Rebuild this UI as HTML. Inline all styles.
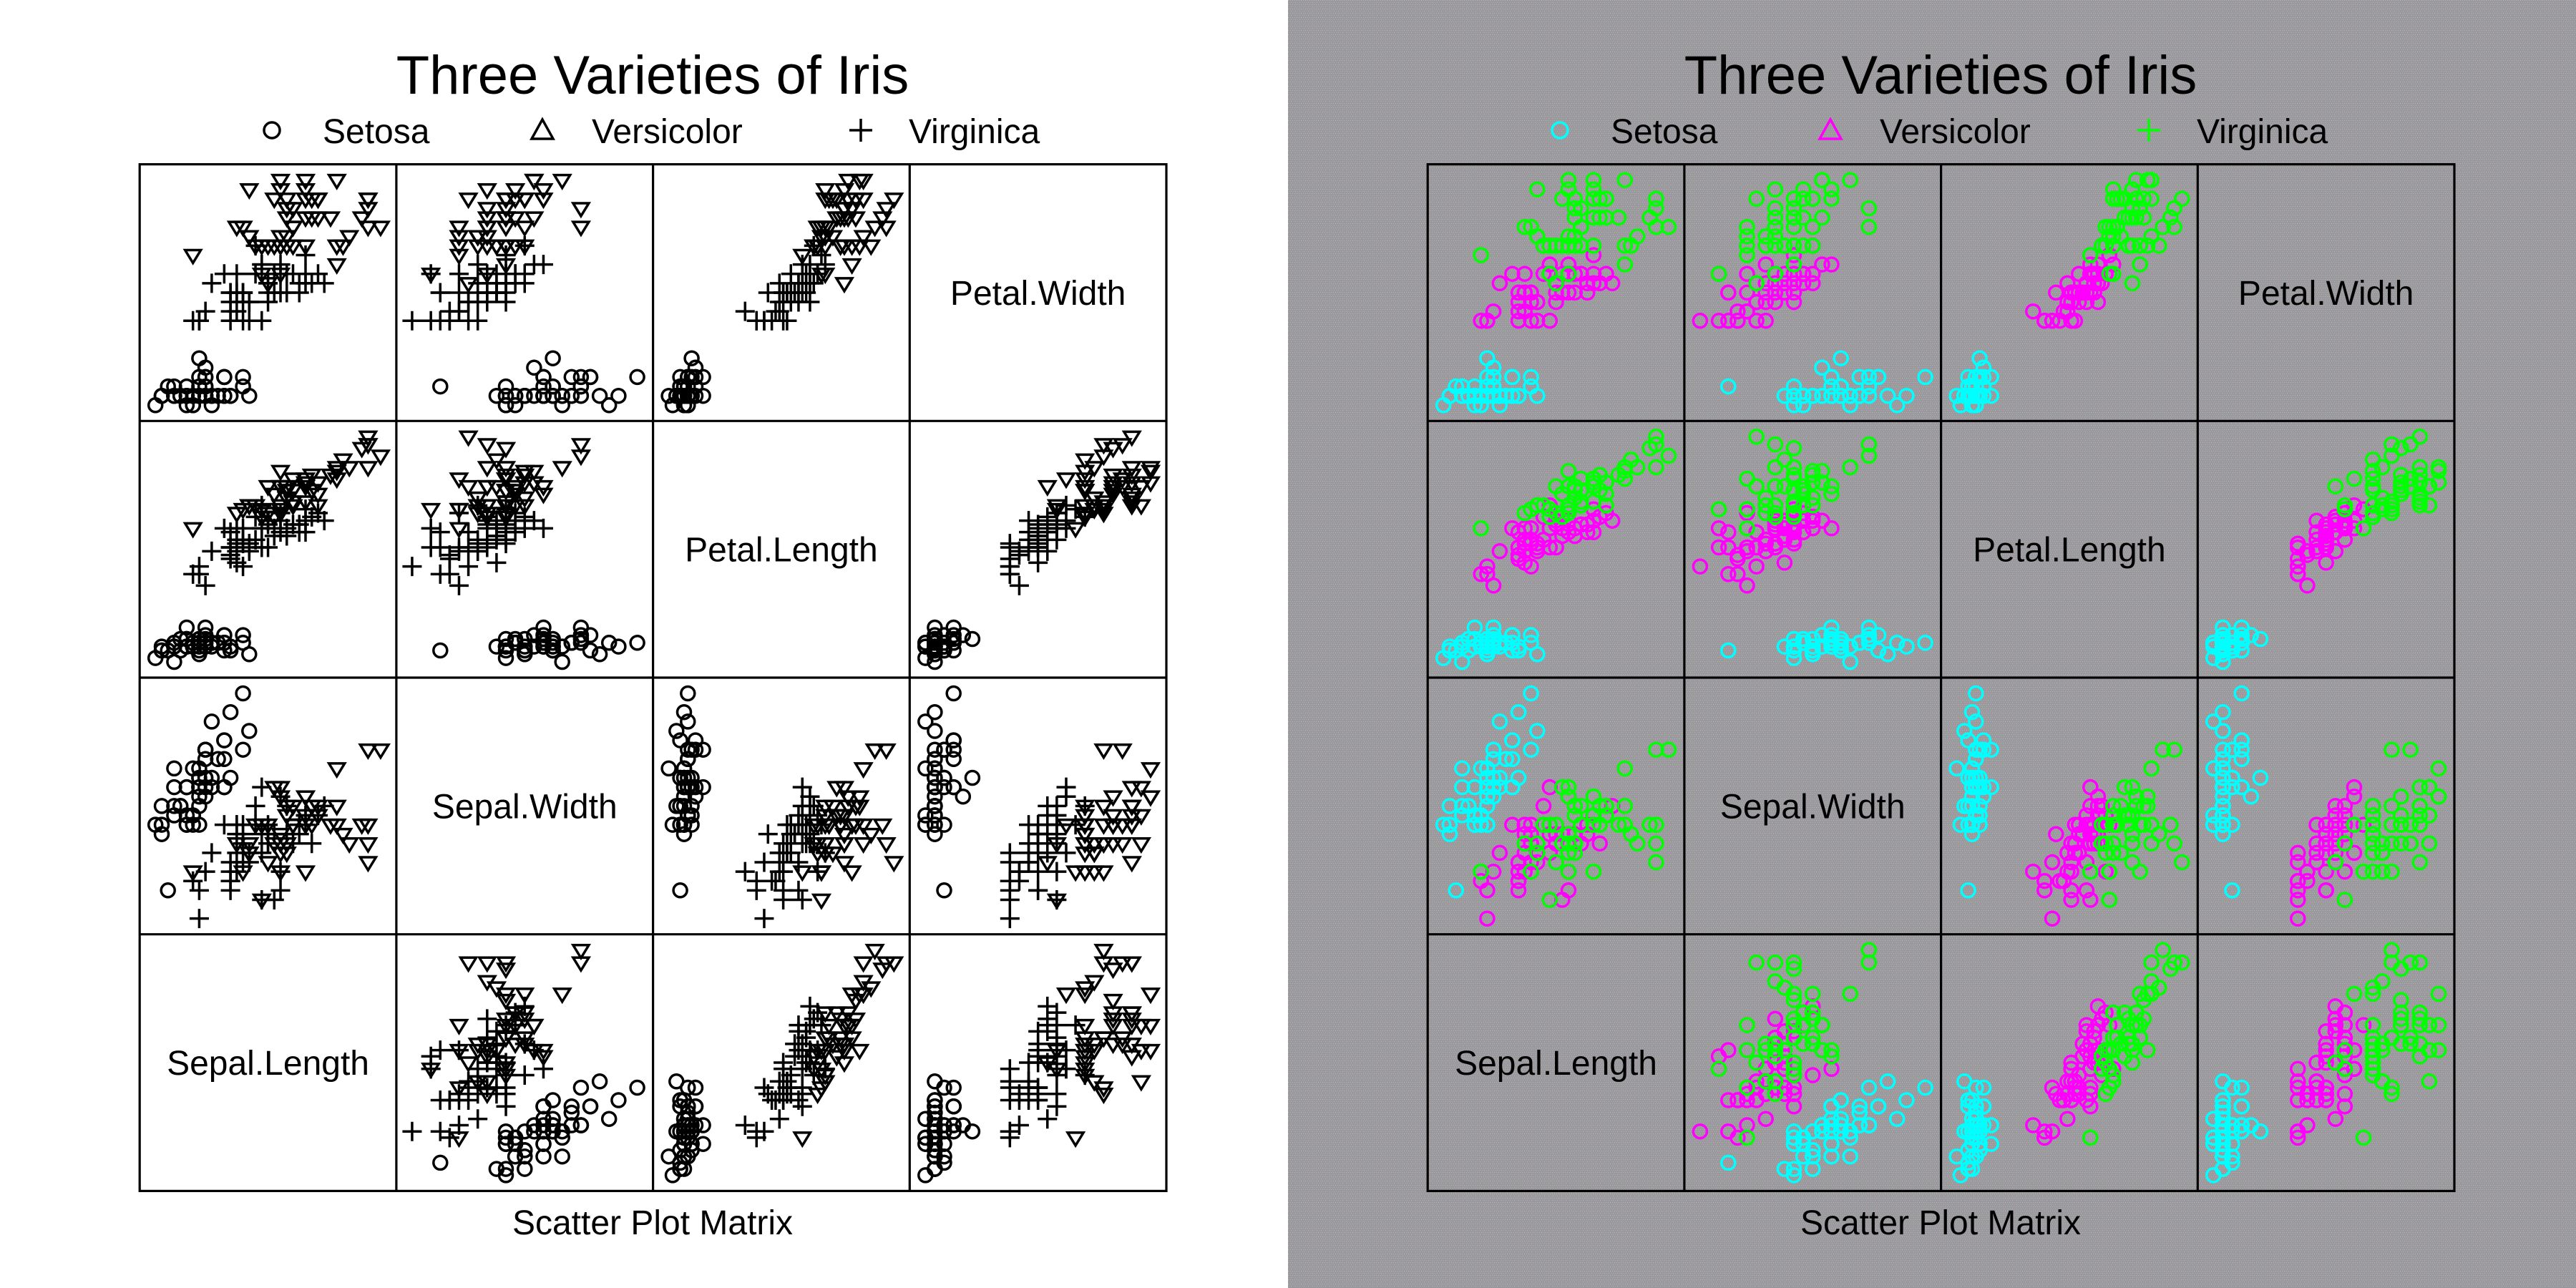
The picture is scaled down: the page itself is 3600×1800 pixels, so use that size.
<!DOCTYPE html>
<html><head><meta charset="utf-8">
<style>
html,body{margin:0;padding:0;background:#fff;}
svg{display:block;font-family:"Liberation Sans",Arial,sans-serif;}
</style></head>
<body>
<svg id="chart" width="3600" height="1800" viewBox="0 0 3600 1800" xmlns="http://www.w3.org/2000/svg">
<defs>
<pattern id="noise" width="6" height="6" patternUnits="userSpaceOnUse">
<rect width="6" height="6" fill="#9a999e"/>
<rect x="0" y="0" width="1" height="1" fill="#c8b49a"/>
<rect x="3" y="0" width="1" height="1" fill="#8fc8a0"/>
<rect x="1" y="3" width="1" height="1" fill="#c890b0"/>
<rect x="4" y="3" width="1" height="1" fill="#b0b0c8"/>
</pattern>
</defs>
<rect x="0" y="0" width="1800" height="1800" fill="#fff"/>
<rect x="1800" y="0" width="1800" height="1800" fill="url(#noise)"/>
<g id="left"></g>
<g id="right"></g>
</svg>
<script>
// Iris data (Sepal.Length, Sepal.Width, Petal.Length, Petal.Width), grouped by species
const speciesNames = ["Setosa","Versicolor","Virginica"];
const varNames = ["Sepal.Length","Sepal.Width","Petal.Length","Petal.Width"];
const sepalLength = [
5.1,4.9,4.7,4.6,5.0,5.4,4.6,5.0,4.4,4.9,5.4,4.8,4.8,4.3,5.8,5.7,5.4,5.1,5.7,5.1,5.4,5.1,4.6,5.1,4.8,5.0,5.0,5.2,5.2,4.7,4.8,5.4,5.2,5.5,4.9,5.0,5.5,4.9,4.4,5.1,5.0,4.5,4.4,5.0,5.1,4.8,5.1,4.6,5.3,5.0,
7.0,6.4,6.9,5.5,6.5,5.7,6.3,4.9,6.6,5.2,5.0,5.9,6.0,6.1,5.6,6.7,5.6,5.8,6.2,5.6,5.9,6.1,6.3,6.1,6.4,6.6,6.8,6.7,6.0,5.7,5.5,5.5,5.8,6.0,5.4,6.0,6.7,6.3,5.6,5.5,5.5,6.1,5.8,5.0,5.6,5.7,5.7,6.2,5.1,5.7,
6.3,5.8,7.1,6.3,6.5,7.6,4.9,7.3,6.7,7.2,6.5,6.4,6.8,5.7,5.8,6.4,6.5,7.7,7.7,6.0,6.9,5.6,7.7,6.3,6.7,7.2,6.2,6.1,6.4,7.2,7.4,7.9,6.4,6.3,6.1,7.7,6.3,6.4,6.0,6.9,6.7,6.9,5.8,6.8,6.7,6.7,6.3,6.5,6.2,5.9];
const sepalWidth = [
3.5,3.0,3.2,3.1,3.6,3.9,3.4,3.4,2.9,3.1,3.7,3.4,3.0,3.0,4.0,4.4,3.9,3.5,3.8,3.8,3.4,3.7,3.6,3.3,3.4,3.0,3.4,3.5,3.4,3.2,3.1,3.4,4.1,4.2,3.1,3.2,3.5,3.6,3.0,3.4,3.5,2.3,3.2,3.5,3.8,3.0,3.8,3.2,3.7,3.3,
3.2,3.2,3.1,2.3,2.8,2.8,3.3,2.4,2.9,2.7,2.0,3.0,2.2,2.9,2.9,3.1,3.0,2.7,2.2,2.5,3.2,2.8,2.5,2.8,2.9,3.0,2.8,3.0,2.9,2.6,2.4,2.4,2.7,2.7,3.0,3.4,3.1,2.3,3.0,2.5,2.6,3.0,2.6,2.3,2.7,3.0,2.9,2.9,2.5,2.8,
3.3,2.7,3.0,2.9,3.0,3.0,2.5,2.9,2.5,3.6,3.2,2.7,3.0,2.5,2.8,3.2,3.0,3.8,2.6,2.2,3.2,2.8,2.8,2.7,3.3,3.2,2.8,3.0,2.8,3.0,2.8,3.8,2.8,2.8,2.6,3.0,3.4,3.1,3.0,3.1,3.1,3.1,2.7,3.2,3.3,3.0,2.5,3.0,3.4,3.0];
const petalLength = [
1.4,1.4,1.3,1.5,1.4,1.7,1.4,1.5,1.4,1.5,1.5,1.6,1.4,1.1,1.2,1.5,1.3,1.4,1.7,1.5,1.7,1.5,1.0,1.7,1.9,1.6,1.6,1.5,1.4,1.6,1.6,1.5,1.5,1.4,1.5,1.2,1.3,1.4,1.3,1.5,1.3,1.3,1.3,1.6,1.9,1.4,1.6,1.4,1.5,1.4,
4.7,4.5,4.9,4.0,4.6,4.5,4.7,3.3,4.6,3.9,3.5,4.2,4.0,4.7,3.6,4.4,4.5,4.1,4.5,3.9,4.8,4.0,4.9,4.7,4.3,4.4,4.8,5.0,4.5,3.5,3.8,3.7,3.9,5.1,4.5,4.5,4.7,4.4,4.1,4.0,4.4,4.6,4.0,3.3,4.2,4.2,4.2,4.3,3.0,4.1,
6.0,5.1,5.9,5.6,5.8,6.6,4.5,6.3,5.8,6.1,5.1,5.3,5.5,5.0,5.1,5.3,5.5,6.7,6.9,5.0,5.7,4.9,6.7,4.9,5.7,6.0,4.8,4.9,5.6,5.8,6.1,6.4,5.6,5.1,5.6,6.1,5.6,5.5,4.8,5.4,5.6,5.1,5.1,5.9,5.7,5.2,5.0,5.2,5.4,5.1];
const petalWidth = [
0.2,0.2,0.2,0.2,0.2,0.4,0.3,0.2,0.2,0.1,0.2,0.2,0.1,0.1,0.2,0.4,0.4,0.3,0.3,0.3,0.2,0.4,0.2,0.5,0.2,0.2,0.4,0.2,0.2,0.2,0.2,0.4,0.1,0.2,0.2,0.2,0.2,0.1,0.2,0.2,0.3,0.3,0.2,0.6,0.4,0.3,0.2,0.2,0.2,0.2,
1.4,1.5,1.5,1.3,1.5,1.3,1.6,1.0,1.3,1.4,1.0,1.5,1.0,1.4,1.3,1.4,1.5,1.0,1.5,1.1,1.8,1.3,1.5,1.2,1.3,1.4,1.4,1.7,1.5,1.0,1.1,1.0,1.2,1.6,1.5,1.6,1.5,1.3,1.3,1.3,1.2,1.4,1.2,1.0,1.3,1.2,1.3,1.3,1.1,1.3,
2.5,1.9,2.1,1.8,2.2,2.1,1.7,1.8,1.8,2.5,2.0,1.9,2.1,2.0,2.4,2.3,1.8,2.2,2.3,1.5,2.3,2.0,2.0,1.8,2.1,1.8,1.8,1.8,2.1,1.6,1.9,2.0,2.2,1.5,1.4,2.3,2.4,1.8,1.8,2.1,2.4,2.3,1.9,2.3,2.5,2.3,1.9,2.0,2.3,1.8];
const speciesIndex = [];
for (let i = 0; i < 150; i++) speciesIndex.push(Math.floor(i / 50));

const NS = "http://www.w3.org/2000/svg";
const vars = [sepalLength, sepalWidth, petalLength, petalWidth];
function mk(tag, attrs, parent) {
  const e = document.createElementNS(NS, tag);
  for (const k in attrs) e.setAttribute(k, attrs[k]);
  parent.appendChild(e);
  return e;
}
// axis limits with lattice-style 7% extension
const lims = vars.map(v => {
  const mn = Math.min(...v), mx = Math.max(...v), d = mx - mn;
  return [mn - 0.07 * d, mx + 0.07 * d];
});
const FL = 195.2, FT = 229.6, CELL = 358.7;
function xScale(vi, col, val, off) {
  const [a, b] = lims[vi];
  return off + FL + col * CELL + (val - a) / (b - a) * CELL;
}
function yScale(vi, row, val) {
  const [a, b] = lims[vi];
  return FT + row * CELL + CELL - (val - a) / (b - a) * CELL;
}

function drawPanel(g, off, colored) {
  const colors = ["#00ffff", "#ff00ff", "#00ff00"];
  const strokeFor = s => colored ? colors[s] : "#000";
  // title
  const t = mk("text", {x: 912 + off, y: 131, "font-size": 76, "text-anchor": "middle", fill: "#000"}, g);
  t.textContent = "Three Varieties of Iris";
  
  
  // legend
  const legX = [380, 758, 1203];
  const txtX = [451, 827, 1270];
  for (let s = 0; s < 3; s++) {
    const lg = mk("g", {}, g);
    
    
    const cx = legX[s] + off, cy = 182, col = strokeFor(s);
    if (s === 0) mk("circle", {cx, cy, r: 11, fill: "none", stroke: col, "stroke-width": 3.5}, lg);
    else if (s === 1) mk("polygon", {points: `${cx-15},${cy+12} ${cx+15},${cy+12} ${cx},${cy-15}`, fill: "none", stroke: col, "stroke-width": 3.5}, lg);
    else { mk("line", {x1: cx-16, y1: cy, x2: cx+16, y2: cy, stroke: col, "stroke-width": 3.5}, lg);
           mk("line", {x1: cx, y1: cy-16, x2: cx, y2: cy+16, stroke: col, "stroke-width": 3.5}, lg); }
    const lt = mk("text", {x: txtX[s] + off, y: 200, "font-size": 48, fill: "#000"}, lg);
    lt.textContent = speciesNames[s];
  }
  // cells
  for (let row = 0; row < 4; row++) {
    for (let col = 0; col < 4; col++) {
      const yv = 3 - row, xv = col;
      const cg = mk("g", {}, g);
      
      
      if (xv === yv) {
        const lt = mk("text", {x: off + FL + (col + 0.5) * CELL, y: FT + (row + 0.5) * CELL + 17, "font-size": 48, "text-anchor": "middle", fill: "#000"}, cg);
        lt.textContent = varNames[xv];
        continue;
      }
      for (let i = 0; i < 150; i++) {
        const s = speciesIndex[i];
        const px = xScale(xv, col, vars[xv][i], off);
        const py = yScale(yv, row, vars[yv][i]);
        const c = strokeFor(s);
        let m;
        if (colored || s === 0) {
          m = mk("circle", {cx: px.toFixed(1), cy: py.toFixed(1), r: 9.5, fill: "none", stroke: c, "stroke-width": 3.5}, cg);
        } else if (s === 1) {
          m = mk("path", {d: `M${px-13.5},${py}H${px+13.5}M${px},${py-13.5}V${py+13.5}`, fill: "none", stroke: c, "stroke-width": 3.5}, cg);
        } else {
          m = mk("polygon", {points: `${px-11},${py-7} ${px+11},${py-7} ${px},${py+11}`, fill: "none", stroke: c, "stroke-width": 3.5, "stroke-linejoin": "miter"}, cg);
        }
        
        
      }
    }
  }
  // frame and grid lines
  const fr = mk("rect", {x: FL + off, y: FT, width: 4 * CELL, height: 4 * CELL, fill: "none", stroke: "#000", "stroke-width": 3.2}, g);
  
  
  for (let k = 1; k < 4; k++) {
    const vl = mk("line", {x1: FL + off + k * CELL, y1: FT, x2: FL + off + k * CELL, y2: FT + 4 * CELL, stroke: "#000", "stroke-width": 3.2}, g);
    
    
    const hl = mk("line", {x1: FL + off, y1: FT + k * CELL, x2: FL + off + 4 * CELL, y2: FT + k * CELL, stroke: "#000", "stroke-width": 3.2}, g);
    
    
  }
  const xl = mk("text", {x: 912 + off, y: 1725, "font-size": 48, "text-anchor": "middle", fill: "#000"}, g);
  xl.textContent = "Scatter Plot Matrix";
  
  
}
drawPanel(document.getElementById("left"), 0, false);
drawPanel(document.getElementById("right"), 1800, true);
</script>
</body></html>
